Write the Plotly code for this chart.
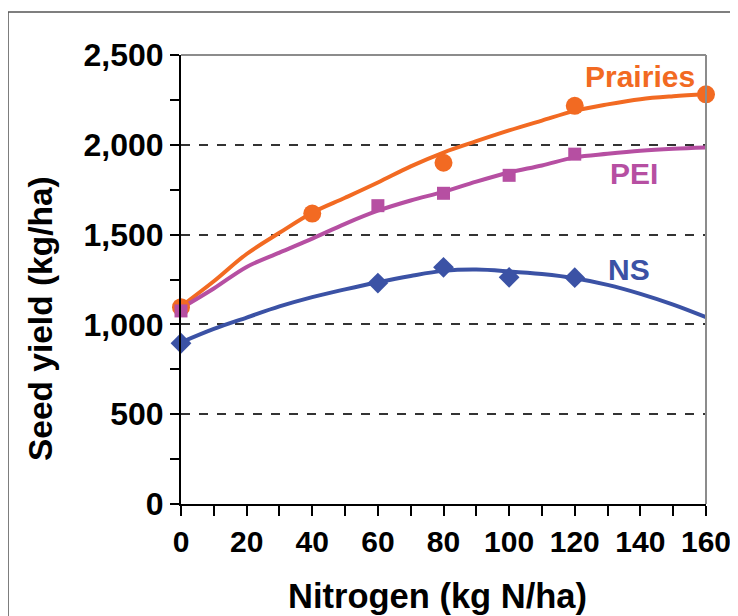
import plotly.graph_objects as go

# Observed data points
prairies_x = [0, 40, 80, 120, 160]
prairies_y = [1096, 1617, 1900, 2217, 2281]
pei_x = [0, 60, 80, 100, 120]
pei_y = [1075, 1661, 1730, 1830, 1948]
ns_x = [0, 60, 80, 100, 120]
ns_y = [895, 1230, 1318, 1262, 1260]

# Trend curves
curve_x = [0, 10, 20, 30, 40, 50, 60, 70, 80, 90, 100, 110, 120, 130, 140, 150, 160]
prairies_fit = [1100, 1240, 1392, 1510, 1622, 1705, 1790, 1880, 1957, 2020, 2080, 2135, 2189, 2225, 2254, 2270, 2281]
pei_fit = [1090, 1200, 1320, 1400, 1478, 1560, 1633, 1690, 1738, 1795, 1846, 1885, 1930, 1950, 1967, 1978, 1985]
ns_fit = [900, 975, 1038, 1100, 1152, 1195, 1235, 1270, 1298, 1305, 1295, 1280, 1257, 1220, 1170, 1110, 1040]

x_ticks = [0, 20, 40, 60, 80, 100, 120, 140, 160]
y_ticks = [0, 500, 1000, 1500, 2000, 2500]
x_range = [0, 160]
y_range = [0, 2500]

ORANGE = "#F26A22"
PURPLE = "#B64FA2"
BLUE = "#3B52A5"
FONT = "Liberation Sans"

fig = go.Figure()

for fx, fy, col in [(curve_x, prairies_fit, ORANGE), (curve_x, pei_fit, PURPLE), (curve_x, ns_fit, BLUE)]:
    fig.add_trace(go.Scatter(x=fx, y=fy, mode="lines", line=dict(color=col, width=4, shape="spline"),
                             cliponaxis=False, showlegend=False, hoverinfo="skip"))

fig.add_trace(go.Scatter(x=prairies_x, y=prairies_y, mode="markers",
                         marker=dict(symbol="circle", size=18, color=ORANGE), cliponaxis=False, showlegend=False))
fig.add_trace(go.Scatter(x=pei_x, y=pei_y, mode="markers",
                         marker=dict(symbol="square", size=13, color=PURPLE), cliponaxis=False, showlegend=False))
fig.add_trace(go.Scatter(x=ns_x, y=ns_y, mode="markers",
                         marker=dict(symbol="diamond", size=16, color=BLUE), cliponaxis=False, showlegend=False))

# Series labels
for txt, xx, yy, col in [("Prairies", 139.9, 2378, ORANGE), ("PEI", 138.1, 1843, PURPLE), ("NS", 136.5, 1303, BLUE)]:
    fig.add_annotation(x=xx, y=yy, text=txt, showarrow=False,
                       font=dict(family=FONT, size=30, color=col, weight="bold"))

# Axis titles
fig.add_annotation(xref="paper", yref="paper", x=-0.2686, y=0.414, text="Seed yield (kg/ha)", textangle=-90,
                   showarrow=False, xanchor="center", yanchor="middle",
                   font=dict(family=FONT, size=33.5, color="black", weight="bold"))
fig.add_annotation(xref="paper", yref="paper", x=(437 - 181) / 525, y=(504 - 596) / 449, text="Nitrogen (kg N/ha)",
                   showarrow=False, xanchor="center", yanchor="middle",
                   font=dict(family=FONT, size=34.5, color="black", weight="bold"))

# Grey top/right plot borders
fig.add_shape(type="line", xref="paper", yref="paper", x0=0, y0=1, x1=1, y1=1, line=dict(color="#8c8c8c", width=2))
fig.add_shape(type="line", xref="paper", yref="paper", x0=1, y0=0, x1=1, y1=1, line=dict(color="#8c8c8c", width=2))
# Outer frame
fig.add_shape(type="rect", xref="paper", yref="paper", x0=-0.3295, y0=-0.26, x1=1.0575, y1=1.0958,
              line=dict(color="#555555", width=1.5), layer="below")

fig.update_xaxes(range=x_range, tickvals=x_ticks, showline=True, linecolor="black", linewidth=2,
                 ticks="outside", ticklen=10, tickcolor="black", tickwidth=1.5,
                 minor=dict(dtick=10, ticks="outside", ticklen=10, tickcolor="black", tickwidth=1.5, showgrid=False),
                 showgrid=False, zeroline=False, automargin=False,
                 tickfont=dict(family=FONT, size=30, color="black", weight="bold"))
fig.update_yaxes(range=y_range, tickvals=y_ticks, tickformat=",", showline=True, linecolor="black", linewidth=2,
                 ticks="outside", ticklen=9, tickcolor="black", tickwidth=1.5,
                 minor=dict(dtick=250, ticks="outside", ticklen=9, tickcolor="black", tickwidth=1.5, showgrid=False),
                 showgrid=True, gridcolor="#333333", griddash="dash", gridwidth=1.5, zeroline=False, automargin=False,
                 tickfont=dict(family=FONT, size=32, color="black", weight="bold"))

# Plot area placed 8px up/left to compensate the page's default body margin
fig.update_layout(width=738, height=616, plot_bgcolor="white", paper_bgcolor="white",
                  margin=dict(l=173, r=40, t=47, b=120, autoexpand=False), showlegend=False)

fig.write_html("out.html")
